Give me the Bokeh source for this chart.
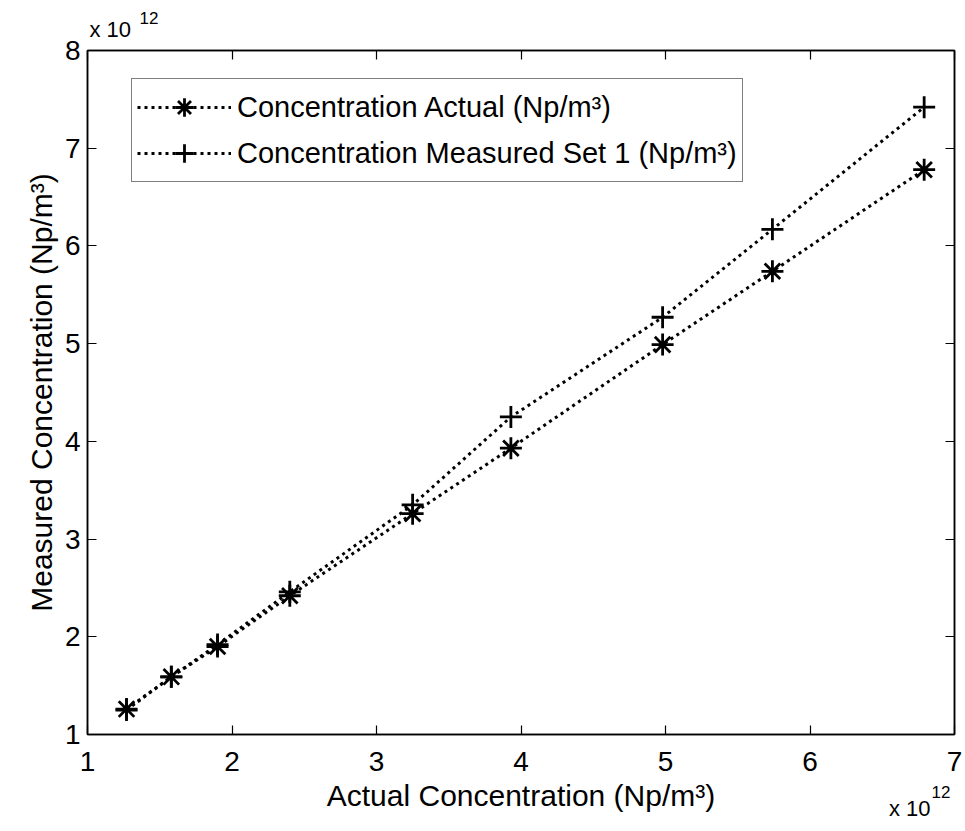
from bokeh.plotting import figure
from bokeh.models import LinearAxis, FixedTicker, Legend, LegendItem, Label, Range1d
from bokeh.embed import file_html
from bokeh.resources import INLINE

# ---- data (values in units of 1e12 Np/m^3) ----
actual_x = [1.27, 1.58, 1.90, 2.40, 3.25, 3.93, 4.98, 5.74, 6.79]
actual_y = [1.26, 1.59, 1.90, 2.42, 3.26, 3.93, 4.99, 5.74, 6.78]
measured_y = [1.25, 1.59, 1.92, 2.46, 3.35, 4.25, 5.27, 6.17, 7.42]
x_ticks = [1, 2, 3, 4, 5, 6, 7]
y_ticks = [1, 2, 3, 4, 5, 6, 7, 8]
series_labels = ["Concentration Actual (Np/m³)", "Concentration Measured Set 1 (Np/m³)"]
x_label = "Actual Concentration (Np/m³)"
y_label = "Measured Concentration (Np/m³)"
exp_base = "x 10"
exp_power = "12"

FONT = "Liberation Sans"
TICK_FS = "28px"
LABEL_FS = "30px"
EXP_FS = "22px"
POW_FS = "17px"

p = figure(width=965, height=831, output_backend="svg", toolbar_location=None,
           x_range=Range1d(x_ticks[0], x_ticks[-1]), y_range=Range1d(y_ticks[0], y_ticks[-1]),
           x_axis_location=None, y_axis_location=None,
           min_border_left=87, min_border_right=11, min_border_top=50, min_border_bottom=97)
p.background_fill_color = "white"
p.border_fill_color = "white"
p.outline_line_color = "black"
p.outline_line_width = 1.5
p.xgrid.visible = False
p.ygrid.visible = False


def base_style(ax):
    ax.axis_line_color = "black"
    ax.axis_line_width = 1.5
    ax.major_tick_line_color = "black"
    ax.major_tick_line_width = 1.2
    ax.minor_tick_line_color = "black"
    ax.minor_tick_line_width = 1.2
    ax.major_tick_in = 9
    ax.major_tick_out = 0
    ax.minor_tick_in = 9
    ax.minor_tick_out = 0
    ax.major_label_text_font = FONT
    ax.major_label_text_font_size = TICK_FS
    ax.major_label_text_color = "black"
    ax.axis_label_text_font = FONT
    ax.axis_label_text_font_size = LABEL_FS
    ax.axis_label_text_font_style = "normal"
    ax.axis_label_text_color = "black"


xb = LinearAxis(axis_label=x_label, ticker=FixedTicker(ticks=x_ticks))
base_style(xb)
xb.minor_tick_line_color = None
xb.major_label_standoff = 17
xb.axis_label_standoff = 5
p.add_layout(xb, "below")

yl = LinearAxis(axis_label=y_label, ticker=FixedTicker(ticks=y_ticks))
base_style(yl)
yl.minor_tick_line_color = None
yl.major_label_standoff = 7
yl.axis_label_standoff = 4
p.add_layout(yl, "left")

# mirrored inward ticks on top and right (box on), drawn as unlabeled minor ticks
xt = LinearAxis(ticker=FixedTicker(ticks=[], minor_ticks=x_ticks))
base_style(xt)
xt.major_label_standoff = 0
xt.axis_label_standoff = 0
p.add_layout(xt, "above")

yr = LinearAxis(ticker=FixedTicker(ticks=[], minor_ticks=y_ticks))
base_style(yr)
yr.major_label_standoff = 0
yr.axis_label_standoff = 0
p.add_layout(yr, "right")

# ---- series ----
l1 = p.line(actual_x, actual_y, line_color="black", line_width=3, line_dash="3 4")
s1 = p.scatter(actual_x, actual_y, marker="asterisk", size=22, line_color="black", line_width=2.8)
l2 = p.line(actual_x, measured_y, line_color="black", line_width=3, line_dash="3 4")
s2 = p.scatter(actual_x, measured_y, marker="cross", size=22, line_color="black", line_width=2.8)

legend = Legend(items=[LegendItem(label=series_labels[0], renderers=[l1, s1]),
                       LegendItem(label=series_labels[1], renderers=[l2, s2])],
                location=(44, 552), orientation="vertical",
                glyph_width=94, glyph_height=46, spacing=0, padding=5,
                label_standoff=6, label_text_font=FONT, label_text_font_size="29px",
                label_text_color="black", label_text_baseline="middle",
                border_line_color="black", border_line_width=1.5,
                background_fill_color="white", background_fill_alpha=1.0,
                margin=0)
p.add_layout(legend)


# ---- exponent multipliers (anchored to axis corners, offsets in pixels) ----
def exp_label(txt, fs, ax_x, ax_y, dx, dy, align):
    return Label(x=ax_x, y=ax_y, x_offset=dx, y_offset=dy, text=txt,
                 text_font=FONT, text_font_size=fs, text_color="black",
                 text_baseline="alphabetic", text_align=align)


# side panels only host these texts (so that they are not clipped to the frame)
p.add_layout(exp_label(exp_base, EXP_FS, x_ticks[0], y_ticks[-1], 2, 21, "left"), "above")
p.add_layout(exp_label(exp_base, EXP_FS, x_ticks[-1], y_ticks[0], -24, -74, "right"), "above")
p.add_layout(exp_label(exp_power, POW_FS, x_ticks[0], y_ticks[-1], 52, 33, "left"), "left")
p.add_layout(exp_label(exp_power, POW_FS, x_ticks[-1], y_ticks[0], -4, -57, "right"), "below")

open("out.html", "w").write(file_html(p, INLINE))
